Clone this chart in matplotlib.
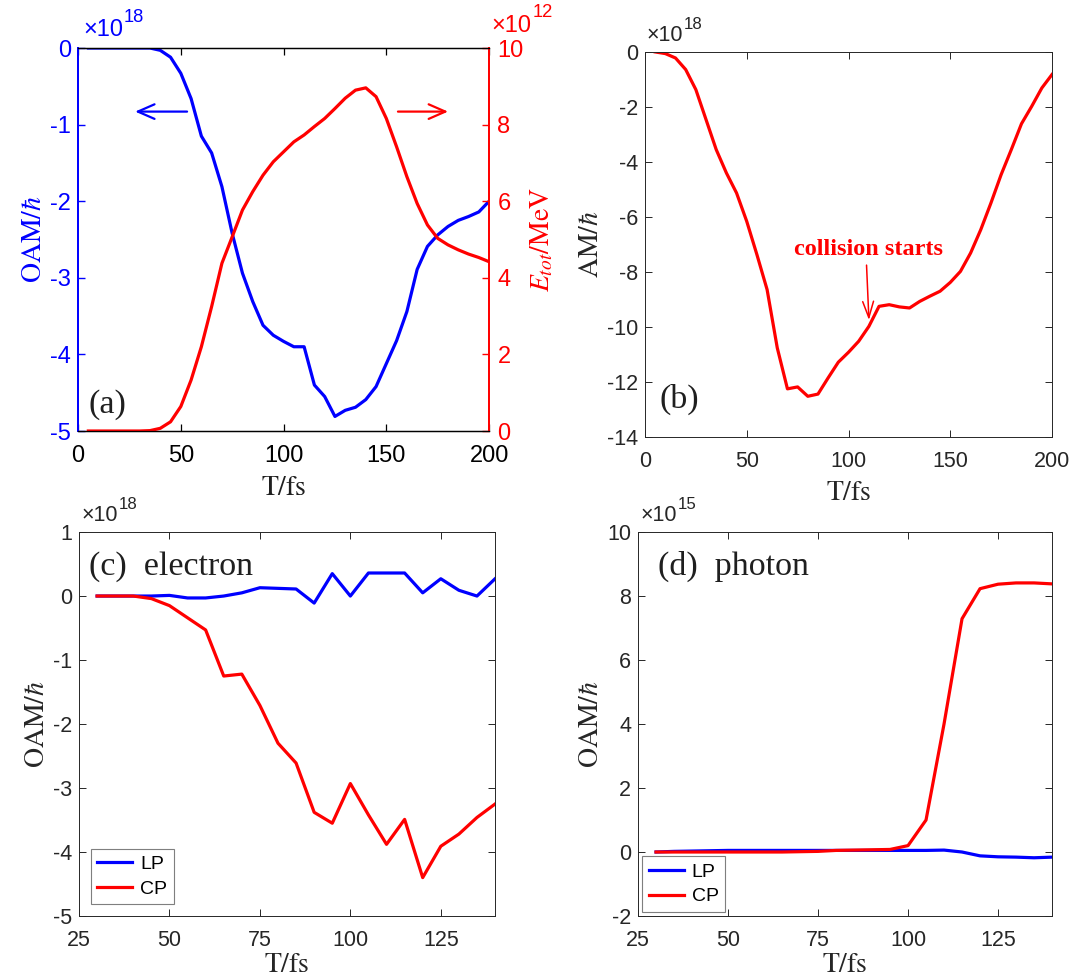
import matplotlib
matplotlib.use("Agg")
import matplotlib.pyplot as plt
from matplotlib.ticker import MultipleLocator

plt.rcParams['font.family'] = ['Liberation Sans', 'DejaVu Sans']
plt.rcParams['mathtext.fontset'] = 'stix'

# panel (a): OAM (x1e18) and E_tot (x1e12) vs time
t_a = list(range(5, 205, 5))
oam_a = [0, 0, 0, 0, 0, 0, 0, -0.03, -0.12, -0.33, -0.66, -1.15, -1.37, -1.81, -2.42,
         -2.94, -3.31, -3.62, -3.75, -3.83, -3.9, -3.9, -4.4, -4.55, -4.81, -4.73, -4.69,
         -4.59, -4.42, -4.12, -3.82, -3.44, -2.89, -2.59, -2.44, -2.33, -2.25, -2.2, -2.14, -2.0]
etot_a = [0, 0, 0, 0, 0, 0, 0.01, 0.07, 0.24, 0.64, 1.33, 2.2, 3.25, 4.38, 5.07, 5.77,
          6.25, 6.68, 7.03, 7.29, 7.55, 7.73, 7.95, 8.16, 8.42, 8.69, 8.9, 8.96, 8.73,
          8.16, 7.42, 6.64, 5.94, 5.38, 5.03, 4.86, 4.73, 4.62, 4.53, 4.42]

# panel (b): total AM (x1e18)
t_b = list(range(5, 205, 5))
am_b = [0, -0.06, -0.22, -0.64, -1.37, -2.46, -3.55, -4.4, -5.13, -6.16, -7.37, -8.64,
        -10.76, -12.25, -12.18, -12.52, -12.44, -11.85, -11.28, -10.92, -10.52, -9.98,
        -9.25, -9.19, -9.27, -9.31, -9.07, -8.88, -8.7, -8.38, -7.98, -7.31, -6.46,
        -5.49, -4.46, -3.55, -2.61, -1.98, -1.31, -0.82]

# panel (c): electron OAM (x1e18)
t_c = list(range(30, 145, 5))
lp_c = [0, 0, 0, 0, 0.01, -0.03, -0.03, 0, 0.05, 0.13, 0.12, 0.11, -0.11, 0.35, 0.0,
        0.36, 0.36, 0.36, 0.05, 0.27, 0.09, 0.0, 0.27]
cp_c = [0, 0, 0, -0.04, -0.15, -0.34, -0.53, -1.25, -1.22, -1.71, -2.3, -2.61, -3.38,
        -3.55, -2.93, -3.42, -3.88, -3.49, -4.4, -3.91, -3.72, -3.46, -3.25]

# panel (d): photon OAM (x1e15)
t_d = list(range(30, 145, 5))
lp_d = [0, 0.02, 0.03, 0.04, 0.05, 0.05, 0.05, 0.05, 0.05, 0.05, 0.05, 0.05, 0.05,
        0.05, 0.05, 0.05, 0.06, 0.0, -0.12, -0.15, -0.16, -0.18, -0.16]
cp_d = [0, 0, 0, 0, 0, 0, 0, 0, 0.01, 0.02, 0.05, 0.06, 0.07, 0.08, 0.2, 1.0, 4.0,
        7.29, 8.23, 8.37, 8.41, 8.41, 8.38]

BLUE = '#0000ff'
RED = '#ff0000'
GRAY = '#262626'
TXT = '#1f1f1f'
LW = 2.3
TICK = 15.5


def style_box(ax, size=TICK):
    for s in ax.spines.values():
        s.set_color(GRAY)
        s.set_linewidth(0.7)
    ax.tick_params(direction='in', top=True, right=True, length=5, width=0.7,
                   colors=GRAY, labelsize=size)
    ax.tick_params(axis='x', pad=10)
    ax.tick_params(axis='y', pad=5)


# MATLAB-like exponent label "x10^n" above the axes
def offset_label(ax, power, x=0.0, y=1.015, color=GRAY, size=TICK):
    t = ax.text(x, y, '\u00d710', transform=ax.transAxes, ha='left', va='bottom',
                color=color, fontsize=size)
    ax.annotate(str(power), xy=(1, 1), xycoords=t, xytext=(0.5, -5),
                textcoords='offset points', ha='left', va='bottom',
                color=color, fontsize=size * 0.78)


fig = plt.figure(figsize=(10.84, 9.8), dpi=100)

# ---- (a)
ax_a = fig.add_axes([0.0720, 0.5602, 0.3792, 0.3908])
ax_a2 = ax_a.twinx()
ax_a.plot(t_a, oam_a, color=BLUE, lw=LW)
ax_a2.plot(t_a, etot_a, color=RED, lw=LW)
ax_a.set_xlim(0, 200)
ax_a.set_ylim(-5, 0)
ax_a2.set_ylim(0, 10)
ax_a.xaxis.set_major_locator(MultipleLocator(50))
ax_a2.yaxis.set_major_locator(MultipleLocator(2))
ax_a.set_yticks([-5, -4, -3, -2, -1, 0])
ax_a.set_yticklabels(['-5', '-4', '-3', '-2', '-1', '0'])
for a in (ax_a, ax_a2):
    for k in ('top', 'bottom'):
        a.spines[k].set_color('black')
        a.spines[k].set_linewidth(0.9)
    a.spines['left'].set_color(BLUE)
    a.spines['right'].set_color(RED)
    a.spines['left'].set_linewidth(1.3)
    a.spines['right'].set_linewidth(1.3)
ax_a.tick_params(axis='x', direction='in', top=True, length=5, width=0.9,
                 colors='black', labelsize=17, pad=10)
ax_a.tick_params(axis='y', direction='in', length=5, width=1.0, colors=BLUE,
                 labelsize=17, pad=5)
ax_a2.tick_params(axis='y', direction='in', length=5, width=1.0, colors=RED,
                  labelsize=17, pad=6)
ax_a.set_xlabel(r'$\mathrm{T/fs}$', fontsize=20, color=TXT, labelpad=6)
ax_a.set_ylabel(r'$\mathrm{OAM}/\hbar$', fontsize=20, color=BLUE, labelpad=2)
ax_a2.set_ylabel(r'$E_{tot}/\mathrm{MeV}$', fontsize=20, color=RED, labelpad=4)
offset_label(ax_a, 18, x=0.012, y=1.018, color=BLUE, size=17)
offset_label(ax_a2, 12, x=1.006, y=1.030, color=RED, size=17)
ax_a.annotate('', xy=(26.4, -0.83), xytext=(54.4, -0.83),
              arrowprops=dict(arrowstyle='->,head_length=0.8,head_width=0.35',
                              color=BLUE, lw=1.6, mutation_scale=15))
ax_a2.annotate('', xy=(181.4, 8.34), xytext=(154.3, 8.34),
               arrowprops=dict(arrowstyle='->,head_length=0.8,head_width=0.35',
                               color=RED, lw=1.6, mutation_scale=15))
ax_a.text(4.9, -4.66, '(a)', fontsize=24.5, family='Liberation Serif', color=TXT,
          va='center', ha='left')

# ---- (b)
ax_b = fig.add_axes([0.5950, 0.5541, 0.3755, 0.3929])
ax_b.plot(t_b, am_b, color=RED, lw=LW)
ax_b.set_xlim(0, 200)
ax_b.set_ylim(-14, 0)
ax_b.xaxis.set_major_locator(MultipleLocator(50))
ax_b.set_yticks(list(range(-14, 1, 2)))
ax_b.set_yticklabels([str(v) for v in range(-14, 1, 2)])
style_box(ax_b)
ax_b.set_xlabel(r'$\mathrm{T/fs}$', fontsize=20, color=GRAY, labelpad=6)
ax_b.set_ylabel(r'$\mathrm{AM}/\hbar$', fontsize=20, color=GRAY, labelpad=2)
offset_label(ax_b, 18, x=0.005)
ax_b.text(110, -7.2, 'collision starts', fontsize=17.5, family='Liberation Serif',
          weight='bold', color=RED, ha='center', va='center')
ax_b.annotate('', xy=(110.1, -9.85), xytext=(108.8, -7.65),
              arrowprops=dict(arrowstyle='->,head_length=0.9,head_width=0.3',
                              color=RED, lw=1.1, mutation_scale=13))
ax_b.text(7.1, -12.64, '(b)', fontsize=24.5, family='Liberation Serif', color=TXT,
          va='center', ha='left')

# ---- (c)
ax_c = fig.add_axes([0.0729, 0.0653, 0.3838, 0.3918])
ax_c.plot(t_c, lp_c, color=BLUE, lw=LW, label='LP')
ax_c.plot(t_c, cp_c, color=RED, lw=LW, label='CP')
ax_c.set_xlim(25, 140)
ax_c.set_ylim(-5, 1)
ax_c.xaxis.set_major_locator(MultipleLocator(25))
ax_c.set_yticks(list(range(-5, 2)))
ax_c.set_yticklabels([str(v) for v in range(-5, 2)])
style_box(ax_c)
ax_c.set_xlabel(r'$\mathrm{T/fs}$', fontsize=20, color=GRAY, labelpad=1)
ax_c.set_ylabel(r'$\mathrm{OAM}/\hbar$', fontsize=20, color=GRAY, labelpad=2)
offset_label(ax_c, 18, x=0.005)
ax_c.text(27.7, 0.46, '(c)  electron', fontsize=24.5, family='Liberation Serif',
          color=TXT, va='center', ha='left')
leg = ax_c.legend(loc='lower left', fontsize=14, frameon=True, fancybox=False,
                  edgecolor='#7f7f7f', framealpha=1, handlelength=1.8,
                  handletextpad=0.4, borderpad=0.35, labelspacing=0.35,
                  borderaxespad=0.6)
leg.get_frame().set_linewidth(0.8)

# ---- (d)
ax_d = fig.add_axes([0.5886, 0.0653, 0.3819, 0.3918])
ax_d.plot(t_d, lp_d, color=BLUE, lw=LW, label='LP')
ax_d.plot(t_d, cp_d, color=RED, lw=LW, label='CP')
ax_d.set_xlim(25, 140)
ax_d.set_ylim(-2, 10)
ax_d.xaxis.set_major_locator(MultipleLocator(25))
ax_d.set_yticks(list(range(-2, 11, 2)))
ax_d.set_yticklabels([str(v) for v in range(-2, 11, 2)])
style_box(ax_d)
ax_d.set_xlabel(r'$\mathrm{T/fs}$', fontsize=20, color=GRAY, labelpad=1)
ax_d.set_ylabel(r'$\mathrm{OAM}/\hbar$', fontsize=20, color=GRAY, labelpad=2)
offset_label(ax_d, 15, x=0.005)
ax_d.text(30.6, 8.93, '(d)  photon', fontsize=24.5, family='Liberation Serif',
          color=TXT, va='center', ha='left')
leg = ax_d.legend(loc='lower left', fontsize=14, frameon=True, fancybox=False,
                  edgecolor='#7f7f7f', framealpha=1, handlelength=1.8,
                  handletextpad=0.4, borderpad=0.35, labelspacing=0.35,
                  borderaxespad=0.2)
leg.get_frame().set_linewidth(0.8)

fig.savefig('out.png', dpi=100)
